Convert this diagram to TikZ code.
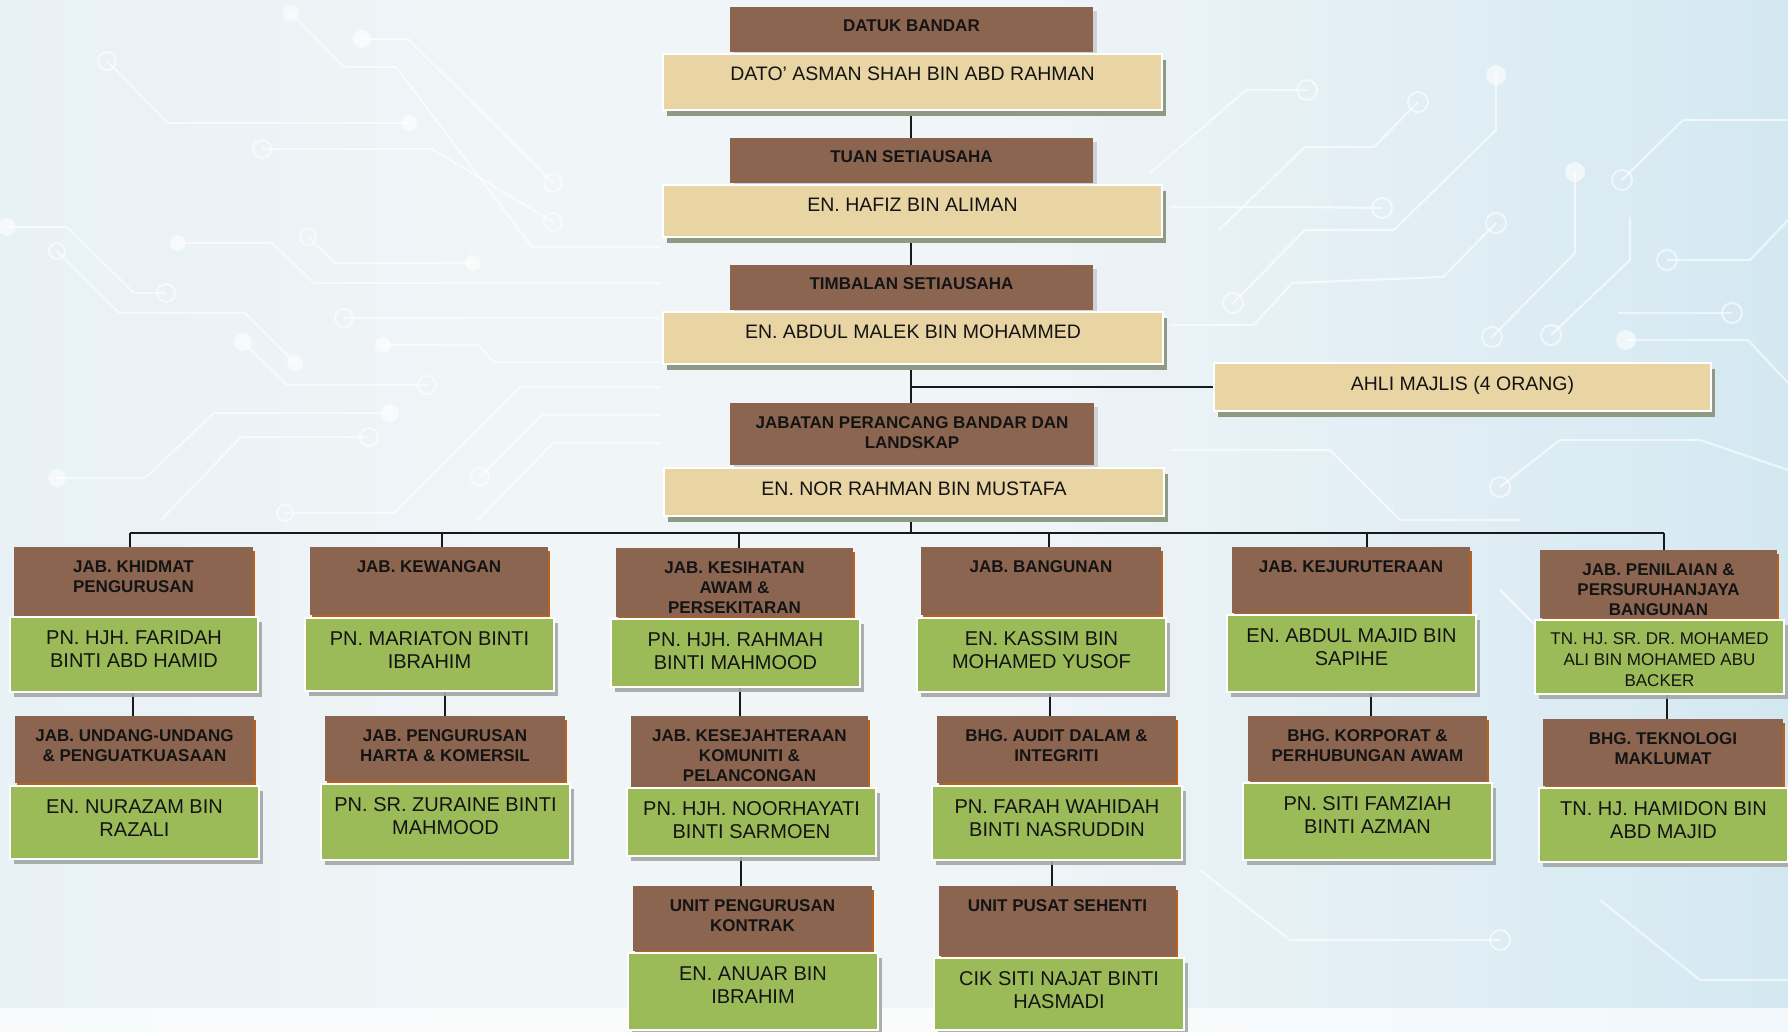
\documentclass[tikz,border=0pt]{standalone}
\usepackage{fontspec}
\setmainfont{Liberation Sans}
\usetikzlibrary{shadows}
\definecolor{brn}{HTML}{8B6550}
\definecolor{tanf}{HTML}{E8D5A3}
\definecolor{grnf}{HTML}{9BBB59}
\definecolor{shor}{HTML}{B8621E}
\definecolor{shtan}{HTML}{8F9A84}
\definecolor{shgrn}{HTML}{A3A8A6}
\definecolor{txt}{HTML}{141414}
\definecolor{bgL}{HTML}{E8F1F5}
\definecolor{bgM}{HTML}{F0F5F7}
\definecolor{bgR}{HTML}{D4E8F2}
\pgfdeclarelayer{bg}
\pgfdeclarelayer{lines}
\pgfsetlayers{bg,lines,main}
\tikzset{
  conn/.style={draw=black!90, line width=1pt},
  ttl/.style={fill=brn, text=txt, font=\fontsize{8.5}{10}\selectfont\bfseries,
    drop shadow={shadow xshift=1.2pt, shadow yshift=-1.8pt, fill=shor, opacity=1}},
  topttl/.style={fill=brn, text=txt, font=\fontsize{8.5}{10}\selectfont\bfseries,
    drop shadow={shadow xshift=2pt, shadow yshift=-2pt, fill=black!30, opacity=0.5}},
  tanbox/.style={fill=tanf, draw=white, line width=1.2pt, text=txt,
    font=\fontsize{9.75}{11.5}\selectfont,
    drop shadow={shadow xshift=2pt, shadow yshift=-3pt, fill=shtan, opacity=1}},
  grnbox/.style={fill=grnf, draw=white, line width=1.2pt, text=txt,
    font=\fontsize{10}{11.75}\selectfont,
    drop shadow={shadow xshift=2pt, shadow yshift=-2.5pt, fill=shgrn, opacity=0.9}},
  circ/.style={draw=white, line width=1.1pt, opacity=0.6, line join=round},
  dotc/.style={fill=white, opacity=0.6},
  ringc/.style={draw=white, line width=1pt, opacity=0.6},
}
% style, name, x1, y1, x2, y2 (px), first baseline offset, text
\newcommand{\orgbox}[8]{%
  \node[#1, anchor=north west, inner sep=0pt, outer sep=0pt] (#2) at (#3,#4)
    {\parbox[c][\dimexpr(#6pt-#4pt)/2\relax][t]{\dimexpr(#5pt-#3pt)/2\relax}{\centering\rule{0pt}{#7}#8\par}};}
\begin{document}
\begin{tikzpicture}[x=0.5pt,y=-0.5pt]
\useasboundingbox (0,0) rectangle (1788,1032);
% ---------- background ----------
\begin{pgfonlayer}{bg}
\shade[left color=bgL, right color=bgM] (0,0) rectangle (500,1032);
\fill[bgM] (499,0) rectangle (1001,1032);
\shade[left color=bgM, right color=bgR] (1000,0) rectangle (1788,1032);
\fill[white, opacity=0.7] (0,1008) rectangle (1788,1032);
% circuit traces (left)
\draw[circ] (107,61) -- (168,123) -- (409,123);
\draw[ringc] (107,61) circle (4.5pt); \fill[dotc] (409,123) circle (4pt);
\draw[circ] (291,13) -- (344,67) -- (396,67) -- (532,247) -- (660,247);
\fill[dotc] (291,13) circle (4pt);
\draw[circ] (362,39) -- (408,39) -- (553,183);
\fill[dotc] (362,39) circle (4.5pt); \draw[ringc] (553,183) circle (4.5pt);
\draw[circ] (262,149) -- (432,149) -- (553,222);
\draw[ringc] (262,149) circle (4.5pt); \draw[ringc] (553,222) circle (4.5pt);
\draw[circ] (7,227) -- (67,227) -- (134,293) -- (166,293);
\fill[dotc] (7,227) circle (4.5pt); \draw[ringc] (166,293) circle (4.5pt);
\draw[circ] (57,251) -- (119,313) -- (245,313) -- (295,363);
\draw[ringc] (57,251) circle (4pt); \fill[dotc] (295,363) circle (4pt);
\draw[circ] (178,243) -- (272,243) -- (314,283) -- (660,283);
\fill[dotc] (178,243) circle (4pt);
\draw[circ] (308,237) -- (335,263) -- (473,263);
\draw[ringc] (308,237) circle (4pt); \fill[dotc] (473,263) circle (4pt);
\draw[circ] (344,318) -- (660,318); \draw[ringc] (344,318) circle (4.5pt);
\draw[circ] (383,345) -- (478,345) -- (494,362) -- (660,362);
\fill[dotc] (383,345) circle (4pt);
\draw[circ] (243,342) -- (287,385) -- (427,385);
\fill[dotc] (243,342) circle (4.5pt); \draw[ringc] (427,385) circle (4.5pt);
\draw[circ] (57,478) -- (145,478) -- (214,413) -- (390,413);
\fill[dotc] (57,478) circle (4.5pt); \fill[dotc] (390,413) circle (4.5pt);
\draw[circ] (161,520) -- (241,437) -- (369,437); \draw[ringc] (369,437) circle (4.5pt);
\draw[circ] (285,513) -- (394,513) -- (520,387) -- (660,387);
\draw[ringc] (285,513) circle (4pt);
\draw[circ] (480,477) -- (542,415) -- (660,415); \draw[ringc] (480,477) circle (4.5pt);
\draw[circ] (478,520) -- (553,443) -- (660,443);
% circuit traces (right)
\begin{scope}[opacity=1.2]
\draw[circ] (1150,173) -- (1246,90) -- (1307,90); \draw[ringc] (1307,90) circle (5pt);
\draw[circ] (1219,230) -- (1305,147) -- (1374,147) -- (1418,102); \draw[ringc] (1418,102) circle (5pt);
\draw[circ] (1496,75) -- (1496,130) -- (1394,230) -- (1305,230) -- (1233,303);
\fill[dotc] (1496,75) circle (5pt); \draw[ringc] (1233,303) circle (5pt);
\draw[circ] (1496,223) -- (1443,277) -- (1292,283) -- (1254,325) -- (1170,325);
\draw[ringc] (1496,223) circle (5pt);
\draw[circ] (1575,172) -- (1575,253) -- (1492,337); \fill[dotc] (1575,172) circle (5pt);
\draw[ringc] (1492,337) circle (5pt);
\draw[circ] (1622,180) -- (1683,120) -- (1788,120); \draw[ringc] (1622,180) circle (5pt);
\draw[circ] (1667,260) -- (1750,260) -- (1788,220); \draw[ringc] (1667,260) circle (5pt);
\draw[circ] (1630,217) -- (1630,260) -- (1551,335); \draw[ringc] (1551,335) circle (5pt);
\draw[circ] (1626,340) -- (1748,340) -- (1788,383); \fill[dotc] (1626,340) circle (5pt);
\draw[circ] (1618,313) -- (1732,313); \draw[ringc] (1732,313) circle (5pt);
\draw[circ] (1170,207) -- (1305,207) -- (1382,208); \draw[ringc] (1382,208) circle (5pt);
\draw[circ] (1500,487) -- (1560,440) -- (1700,440) -- (1788,470); \draw[ringc] (1500,487) circle (5pt);
\draw[circ] (1170,450) -- (1330,450) -- (1400,520) -- (1520,520);
\draw[circ] (1500,590) -- (1560,650) -- (1540,700);
\draw[circ] (1200,870) -- (1290,940) -- (1500,940);
\draw[ringc] (1500,940) circle (5pt);
\draw[circ] (1600,900) -- (1700,980) -- (1788,980);
\end{scope}
\end{pgfonlayer}
% ---------- top chain ----------
\orgbox{topttl}{datukT}{730}{7}{1093}{52}{12.5pt}{DATUK BANDAR}
\orgbox{tanbox}{datukN}{663}{54}{1162}{110}{13.5pt}{DATO’ ASMAN SHAH BIN ABD RAHMAN}
\orgbox{topttl}{tuanT}{730}{138}{1093}{183}{12.5pt}{TUAN SETIAUSAHA}
\orgbox{tanbox}{tuanN}{663}{185}{1162}{237}{13.5pt}{EN. HAFIZ BIN ALIMAN}
\orgbox{topttl}{timbT}{730}{265}{1093}{310}{12.5pt}{TIMBALAN SETIAUSAHA}
\orgbox{tanbox}{timbN}{663}{312}{1163}{364}{13.5pt}{EN. ABDUL MALEK BIN MOHAMMED}
\orgbox{tanbox}{ahli}{1214}{363}{1711}{411}{13.5pt}{AHLI MAJLIS (4 ORANG)}
\orgbox{topttl}{jpbT}{730}{403}{1094}{465}{12.5pt}{JABATAN PERANCANG BANDAR DAN\\LANDSKAP}
\orgbox{tanbox}{jpbN}{664}{468}{1164}{516}{13.5pt}{EN. NOR RAHMAN BIN MUSTAFA}
% ---------- column 1 ----------
\orgbox{ttl}{c1aT}{14}{547}{253}{616}{12.5pt}{JAB. KHIDMAT\\PENGURUSAN}
\orgbox{grnbox}{c1aN}{10}{617}{258}{692}{13.5pt}{PN. HJH. FARIDAH\\BINTI ABD HAMID}
\orgbox{ttl}{c1bT}{15}{716}{254}{783}{12.5pt}{JAB. UNDANG-UNDANG\\\& PENGUATKUASAAN}
\orgbox{grnbox}{c1bN}{10}{786}{259}{859}{13.5pt}{EN. NURAZAM BIN\\RAZALI}
% ---------- column 2 ----------
\orgbox{ttl}{c2aT}{310}{547}{548}{615}{12.5pt}{JAB. KEWANGAN}
\orgbox{grnbox}{c2aN}{305}{618}{554}{691}{13.5pt}{PN. MARIATON BINTI\\IBRAHIM}
\orgbox{ttl}{c2bT}{325}{716}{565}{781}{12.5pt}{JAB. PENGURUSAN\\HARTA \& KOMERSIL}
\orgbox{grnbox}{c2bN}{321}{784}{570}{860}{13.5pt}{PN. SR. ZURAINE BINTI\\MAHMOOD}
% ---------- column 3 ----------
\orgbox{ttl}{c3aT}{616}{548}{853}{617}{12.5pt}{JAB. KESIHATAN\\AWAM \&\\PERSEKITARAN}
\orgbox{grnbox}{c3aN}{611}{619}{860}{687}{13.5pt}{PN. HJH. RAHMAH\\BINTI MAHMOOD}
\orgbox{ttl}{c3bT}{631}{716}{868}{787}{12.5pt}{JAB. KESEJAHTERAAN\\KOMUNITI \&\\PELANCONGAN}
\orgbox{grnbox}{c3bN}{627}{788}{876}{856}{13.5pt}{PN. HJH. NOORHAYATI\\BINTI SARMOEN}
\orgbox{ttl}{c3cT}{633}{886}{872}{951}{12.5pt}{UNIT PENGURUSAN\\KONTRAK}
\orgbox{grnbox}{c3cN}{628}{953}{878}{1030}{13.5pt}{EN. ANUAR BIN\\IBRAHIM}
% ---------- column 4 ----------
\orgbox{ttl}{c4aT}{921}{547}{1161}{615}{12.5pt}{JAB. BANGUNAN}
\orgbox{grnbox}{c4aN}{917}{618}{1166}{692}{13.5pt}{EN. KASSIM BIN\\MOHAMED YUSOF}
\orgbox{ttl}{c4bT}{937}{716}{1176}{783}{12.5pt}{BHG. AUDIT DALAM \&\\INTEGRITI}
\orgbox{grnbox}{c4bN}{932}{786}{1182}{860}{13.5pt}{PN. FARAH WAHIDAH\\BINTI NASRUDDIN}
\orgbox{ttl}{c4cT}{939}{886}{1176}{956}{12.5pt}{UNIT PUSAT SEHENTI}
\orgbox{grnbox}{c4cN}{934}{958}{1184}{1030}{13.5pt}{CIK SITI NAJAT BINTI\\HASMADI}
% ---------- column 5 ----------
\orgbox{ttl}{c5aT}{1232}{547}{1470}{613}{12.5pt}{JAB. KEJURUTERAAN}
\orgbox{grnbox}{c5aN}{1227}{615}{1476}{692}{13.5pt}{EN. ABDUL MAJID BIN\\SAPIHE}
\orgbox{ttl}{c5bT}{1248}{716}{1487}{781}{12.5pt}{BHG. KORPORAT \&\\PERHUBUNGAN AWAM}
\orgbox{grnbox}{c5bN}{1243}{783}{1492}{860}{13.5pt}{PN. SITI FAMZIAH\\BINTI AZMAN}
% ---------- column 6 ----------
\orgbox{ttl}{c6aT}{1540}{550}{1777}{618}{12.5pt}{JAB. PENILAIAN \&\\PERSURUHANJAYA\\BANGUNAN}
\orgbox{grnbox, font=\fontsize{8.5}{10.5}\selectfont}{c6aN}{1535}{620}{1784}{694}{12pt}{TN. HJ. SR. DR. MOHAMED\\ALI BIN MOHAMED ABU\\BACKER}
\orgbox{ttl}{c6bT}{1543}{719}{1783}{786}{12.5pt}{BHG. TEKNOLOGI\\MAKLUMAT}
\orgbox{grnbox}{c6bN}{1539}{788}{1788}{862}{13.5pt}{TN. HJ. HAMIDON BIN\\ABD MAJID}
% ---------- connectors ----------
\begin{pgfonlayer}{lines}
\coordinate (m) at (911,533);
\draw[conn] (m |- datukN.south) -- (m |- tuanT.north);
\draw[conn] (m |- tuanN.south) -- (m |- timbT.north);
\draw[conn] (m |- timbN.south) -- (m |- jpbT.north);
\draw[conn] (m |- ahli.west) -- (ahli.west);
\draw[conn] (m |- jpbN.south) -- (m);
\coordinate (b1) at (130,533);
\coordinate (b2) at (442,533);
\coordinate (b3) at (739,533);
\coordinate (b4) at (1049,533);
\coordinate (b5) at (1367,533);
\coordinate (b6) at (1664,533);
\draw[conn] (b1) -- (b6);
\draw[conn] (b1) -- (b1 |- c1aT.north);
\draw[conn] (b2) -- (b2 |- c2aT.north);
\draw[conn] (b3) -- (b3 |- c3aT.north);
\draw[conn] (b4) -- (b4 |- c4aT.north);
\draw[conn] (b5) -- (b5 |- c5aT.north);
\draw[conn] (b6) -- (b6 |- c6aT.north);
\coordinate (v1) at (133,0);
\coordinate (v2) at (445,0);
\coordinate (v3) at (740,0);
\coordinate (v3b) at (741,0);
\coordinate (v4) at (1050,0);
\coordinate (v4b) at (1052,0);
\coordinate (v5) at (1371,0);
\coordinate (v6) at (1667,0);
\draw[conn] (v1 |- c1aN.south) -- (v1 |- c1bT.north);
\draw[conn] (v2 |- c2aN.south) -- (v2 |- c2bT.north);
\draw[conn] (v3 |- c3aN.south) -- (v3 |- c3bT.north);
\draw[conn] (v3b |- c3bN.south) -- (v3b |- c3cT.north);
\draw[conn] (v4 |- c4aN.south) -- (v4 |- c4bT.north);
\draw[conn] (v4b |- c4bN.south) -- (v4b |- c4cT.north);
\draw[conn] (v5 |- c5aN.south) -- (v5 |- c5bT.north);
\draw[conn] (v6 |- c6aN.south) -- (v6 |- c6bT.north);
\end{pgfonlayer}
\end{tikzpicture}
\end{document}
